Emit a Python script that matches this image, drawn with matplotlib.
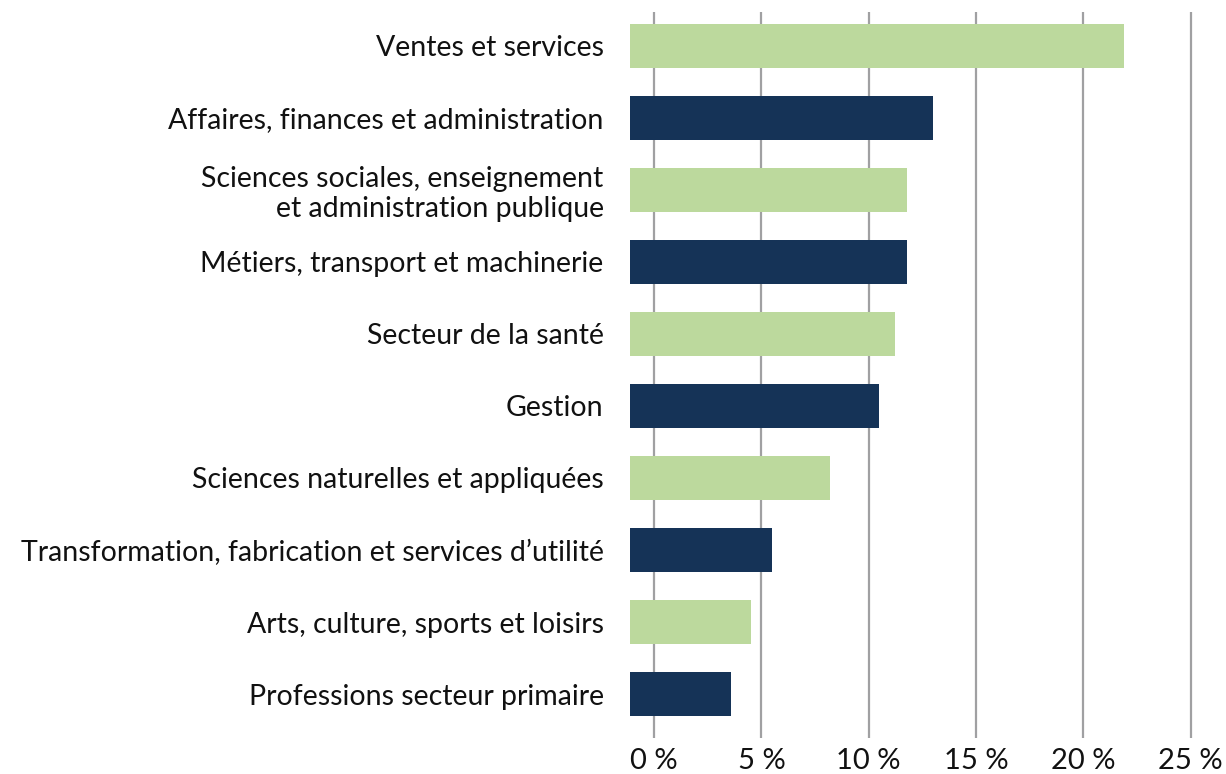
import matplotlib.pyplot as plt
from matplotlib.ticker import FuncFormatter

categories = [
    "Ventes et services",
    "Affaires, finances et administration",
    "Sciences sociales, enseignement\net administration publique",
    "Métiers, transport et machinerie",
    "Secteur de la santé",
    "Gestion",
    "Sciences naturelles et appliquées",
    "Transformation, fabrication et services d\u2019utilité",
    "Arts, culture, sports et loisirs",
    "Professions secteur primaire",
]
values = [21.9, 13.0, 11.8, 11.8, 11.2, 10.5, 8.2, 5.5, 4.5, 3.6]
xticks = [0, 5, 10, 15, 20, 25]

green = "#bcd99d"
navy = "#153357"
colors = [green if i % 2 == 0 else navy for i in range(len(values))]

# bars start slightly left of the 0 % gridline in the original
base = -1.12

plt.rcParams["font.family"] = ["Lato", "DejaVu Sans"]

fig = plt.figure(figsize=(12.26, 7.74), dpi=100)
ax = fig.add_axes([0.5139, 0.0465, 0.98 - 0.5139, 0.9845 - 0.0465])

ypos = list(range(len(values)))
widths = [v - base for v in values]
ax.barh(ypos, widths, left=base, height=0.61, color=colors, zorder=2)

ax.set_xlim(base, 25.5)
ax.set_ylim(9.61, -0.47)
ax.set_xticks(xticks)
ax.xaxis.set_major_formatter(FuncFormatter(lambda v, p: f"{v:.0f} %"))
ax.set_yticks(ypos)
ax.set_yticklabels(categories, ha="right", multialignment="right", linespacing=1.15)

ax.grid(axis="x", color="#a0a0a2", linewidth=1.6, zorder=0)
ax.set_axisbelow(True)
for s in ax.spines.values():
    s.set_visible(False)
ax.tick_params(axis="y", length=0, pad=19, labelsize=20.5, colors="#111111")
ax.tick_params(axis="x", length=0, pad=7, labelsize=21, colors="#111111")

fig.savefig("out.png", dpi=100)
